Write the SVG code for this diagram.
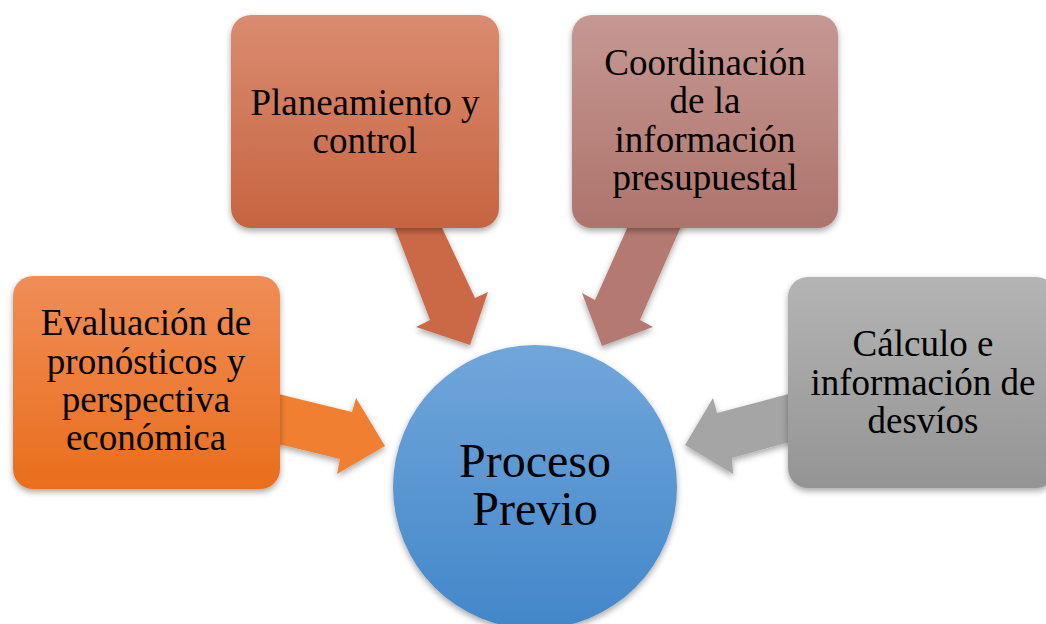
<svg xmlns="http://www.w3.org/2000/svg" width="1046" height="624" viewBox="0 0 1046 624">
  <defs>
    <filter id="sh" x="-20%" y="-20%" width="140%" height="150%">
      <feDropShadow dx="0" dy="3" stdDeviation="3" flood-color="#000" flood-opacity="0.35"/>
    </filter>
    <linearGradient id="gOrange" x1="0" y1="0" x2="0" y2="1">
      <stop offset="0" stop-color="#F08D57"/>
      <stop offset="1" stop-color="#E96E1C"/>
    </linearGradient>
    <linearGradient id="gRust" x1="0" y1="0" x2="0" y2="1">
      <stop offset="0" stop-color="#DA8B70"/>
      <stop offset="1" stop-color="#C66440"/>
    </linearGradient>
    <linearGradient id="gRose" x1="0" y1="0" x2="0" y2="1">
      <stop offset="0" stop-color="#C69893"/>
      <stop offset="1" stop-color="#AD746B"/>
    </linearGradient>
    <linearGradient id="gGray" x1="0" y1="0" x2="0" y2="1">
      <stop offset="0" stop-color="#B4B4B4"/>
      <stop offset="1" stop-color="#949494"/>
    </linearGradient>
    <linearGradient id="gBlue" x1="0" y1="0" x2="0" y2="1">
      <stop offset="0" stop-color="#71A6DB"/>
      <stop offset="1" stop-color="#4287C9"/>
    </linearGradient>
  </defs>
  <style>
    .lbl { font-family: "Liberation Serif", "Times New Roman", serif; font-size: 37px; fill: #000; text-anchor: middle; }
    .big { font-family: "Liberation Serif", "Times New Roman", serif; font-size: 48px; fill: #000; text-anchor: middle; }
    .box { filter: url(#sh); }
    .arr { filter: url(#sh); }
  </style>

  <g id="connectors">
    <polygon class="arr" fill="#F07F33" points="270,392 352,412 356,398 385,446 337,474 340,459 270,442"/>
    <polygon class="arr" fill="#CB6946" points="390,215 436,215 475,298 488,292 470,345 416,327 430,320"/>
    <polygon class="arr" fill="#B47A72" points="633,215 686,215 640,320 653,327 602,346 582,293 595,300"/>
    <polygon class="arr" fill="#A5A5A5" points="800,391 717,413 713,398 685,445 733,474 732,458 800,439"/>
  </g>

  <g id="node-evaluacion">
    <rect class="box" x="13" y="276" width="267" height="213" rx="20" fill="url(#gOrange)"/>
    <text class="lbl" x="146" y="335">Evaluación de</text>
    <text class="lbl" x="146" y="374">pronósticos y</text>
    <text class="lbl" x="146" y="412">perspectiva</text>
    <text class="lbl" x="146" y="450">económica</text>
  </g>

  <g id="node-planeamiento">
    <rect class="box" x="231" y="15" width="268" height="213" rx="20" fill="url(#gRust)"/>
    <text class="lbl" x="365" y="115">Planeamiento y</text>
    <text class="lbl" x="365" y="153">control</text>
  </g>

  <g id="node-coordinacion">
    <rect class="box" x="572" y="15" width="266" height="213" rx="20" fill="url(#gRose)"/>
    <text class="lbl" x="705" y="75">Coordinación</text>
    <text class="lbl" x="705" y="113">de la</text>
    <text class="lbl" x="705" y="152">información</text>
    <text class="lbl" x="705" y="190">presupuestal</text>
  </g>

  <g id="node-calculo">
    <rect class="box" x="788" y="277" width="268" height="211" rx="20" fill="url(#gGray)"/>
    <text class="lbl" x="923" y="356">Cálculo e</text>
    <text class="lbl" x="923" y="395">información de</text>
    <text class="lbl" x="923" y="433">desvíos</text>
  </g>

  <g id="node-proceso">
    <circle class="box" cx="535" cy="487" r="142" fill="url(#gBlue)"/>
    <text class="big" x="535" y="477">Proceso</text>
    <text class="big" x="535" y="525">Previo</text>
  </g>
</svg>
